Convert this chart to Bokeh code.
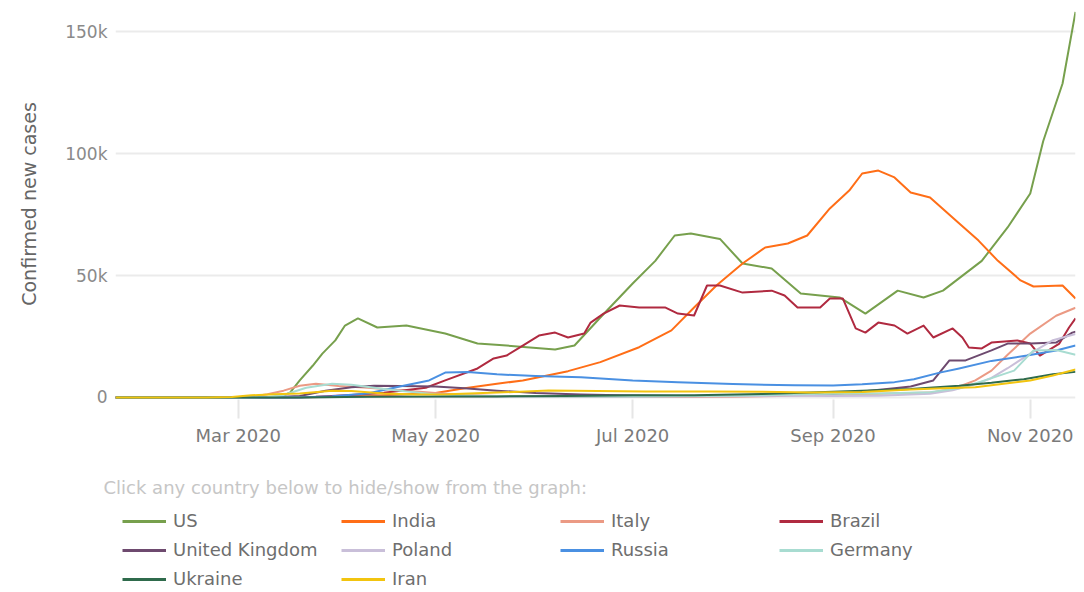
import pandas as pd
from bokeh.plotting import figure
from bokeh.layouts import column
from bokeh.models import Legend, LegendItem, Label, FixedTicker, DatetimeTickFormatter, Range1d
from bokeh.embed import file_html
from bokeh.resources import INLINE

countries = ["US", "India", "Italy", "Brazil", "United Kingdom", "Poland", "Russia", "Germany", "Ukraine", "Iran"]
colors = ["#77a04d", "#ff6e17", "#eb9a84", "#b02a40", "#6e4a6f", "#c9bfd9", "#4a90e2", "#a8dcd1", "#2f6b4c", "#f2c40f"]

us_dates = ["2020-01-23", "2020-03-01", "2020-03-10", "2020-03-14", "2020-03-17", "2020-03-20", "2020-03-24", "2020-03-27",
            "2020-03-31", "2020-04-03", "2020-04-07", "2020-04-13", "2020-04-22", "2020-05-04", "2020-05-14", "2020-05-23",
            "2020-06-07", "2020-06-13", "2020-06-21", "2020-07-01", "2020-07-08", "2020-07-14", "2020-07-19", "2020-07-28",
            "2020-08-04", "2020-08-13", "2020-08-22", "2020-09-03", "2020-09-11", "2020-09-21", "2020-09-29", "2020-10-05",
            "2020-10-17", "2020-10-25", "2020-11-01", "2020-11-05", "2020-11-11", "2020-11-15"]
us_cases = [0, 0, 150, 300, 2000, 7000, 13000, 18000, 23400, 29500, 32400, 28700, 29500, 26200, 22100, 21300,
            19700, 21300, 32800, 46700, 56000, 66400, 67200, 65000, 54900, 52900, 42600, 41000, 34400, 43800, 41000, 43800,
            56000, 69700, 83600, 105000, 128700, 158000]

india_dates = ["2020-01-23", "2020-03-15", "2020-04-01", "2020-04-15", "2020-05-01", "2020-05-10", "2020-05-20", "2020-05-28",
               "2020-06-11", "2020-06-21", "2020-07-03", "2020-07-13", "2020-07-20", "2020-07-27", "2020-08-04", "2020-08-11",
               "2020-08-18", "2020-08-24", "2020-08-31", "2020-09-06", "2020-09-10", "2020-09-15", "2020-09-20", "2020-09-25",
               "2020-10-01", "2020-10-09", "2020-10-16", "2020-10-22", "2020-10-29", "2020-11-02", "2020-11-11", "2020-11-15"]
india_cases = [0, 20, 300, 900, 1800, 3800, 5600, 7000, 10800, 14500, 20600, 27500, 36900, 46000, 54900, 61500,
               63100, 66400, 77500, 84800, 91800, 93000, 90200, 84000, 82000, 72500, 64300, 56000, 48000, 45500, 45900, 40600]

italy_dates = ["2020-01-23", "2020-02-20", "2020-02-28", "2020-03-05", "2020-03-10", "2020-03-15", "2020-03-20", "2020-03-25",
               "2020-04-01", "2020-04-10", "2020-04-20", "2020-05-01", "2020-05-10", "2020-05-20", "2020-06-01", "2020-06-15",
               "2020-07-01", "2020-07-15", "2020-08-01", "2020-08-15", "2020-09-01", "2020-09-15", "2020-10-01", "2020-10-08",
               "2020-10-15", "2020-10-20", "2020-10-25", "2020-11-01", "2020-11-09", "2020-11-15"]
italy_cases = [0, 0, 100, 400, 1300, 2800, 4800, 5600, 4700, 4000, 3000, 1800, 1000, 600, 400, 300,
               200, 220, 300, 600, 1300, 1500, 2000, 3500, 7000, 11000, 17500, 26200, 33500, 36800]

brazil_dates = ["2020-01-23", "2020-03-15", "2020-03-25", "2020-04-05", "2020-04-15", "2020-04-28", "2020-05-04", "2020-05-14",
                "2020-05-19", "2020-05-23", "2020-05-28", "2020-06-02", "2020-06-07", "2020-06-11", "2020-06-16", "2020-06-18",
                "2020-06-22", "2020-06-27", "2020-07-03", "2020-07-11", "2020-07-15", "2020-07-20", "2020-07-24", "2020-07-28",
                "2020-08-04", "2020-08-13", "2020-08-17", "2020-08-21", "2020-08-28", "2020-08-31", "2020-09-04", "2020-09-08",
                "2020-09-11", "2020-09-15", "2020-09-20", "2020-09-24", "2020-09-29", "2020-10-02", "2020-10-08", "2020-10-11",
                "2020-10-13", "2020-10-17", "2020-10-20", "2020-10-28", "2020-11-01", "2020-11-04", "2020-11-10", "2020-11-13",
                "2020-11-15"]
brazil_cases = [0, 20, 300, 1000, 1900, 4000, 7000, 11900, 16000, 17200, 21300, 25400, 26600, 24600, 26200, 30700,
                34400, 37700, 36900, 36900, 34400, 33600, 45900, 45900, 43000, 43800, 41800, 36900, 36900, 40600, 40600, 28300,
                26600, 30700, 29500, 26200, 29500, 24600, 28300, 24600, 20500, 20100, 22500, 23400, 22100, 17200, 22100, 28700,
                32400]

uk_dates = ["2020-01-23", "2020-03-01", "2020-03-10", "2020-03-20", "2020-03-28", "2020-04-05", "2020-04-12", "2020-04-20",
            "2020-05-01", "2020-05-10", "2020-05-20", "2020-06-01", "2020-06-15", "2020-07-01", "2020-07-15", "2020-08-01",
            "2020-08-15", "2020-09-01", "2020-09-10", "2020-09-20", "2020-09-25", "2020-10-02", "2020-10-07", "2020-10-12",
            "2020-10-20", "2020-10-25", "2020-11-01", "2020-11-09", "2020-11-14", "2020-11-15"]
uk_cases = [0, 0, 50, 600, 2800, 4200, 4800, 4700, 4500, 3800, 2800, 1800, 1200, 800, 650, 750,
            1000, 1400, 2500, 3800, 4500, 7000, 15200, 15200, 19300, 22100, 22100, 22500, 26600, 27000]

poland_dates = ["2020-01-23", "2020-03-10", "2020-03-25", "2020-04-10", "2020-05-01", "2020-06-01", "2020-07-01", "2020-08-01",
                "2020-08-15", "2020-09-01", "2020-09-15", "2020-10-01", "2020-10-08", "2020-10-15", "2020-10-20", "2020-10-25",
                "2020-11-01", "2020-11-08", "2020-11-15"]
poland_cases = [0, 0, 100, 350, 300, 350, 300, 500, 700, 600, 700, 1500, 3000, 5500, 8000, 12000, 18000, 23500, 26000]

russia_dates = ["2020-01-23", "2020-03-20", "2020-03-30", "2020-04-10", "2020-04-20", "2020-04-29", "2020-05-04", "2020-05-11",
                "2020-05-20", "2020-06-01", "2020-06-15", "2020-07-01", "2020-07-15", "2020-08-01", "2020-08-20", "2020-09-01",
                "2020-09-10", "2020-09-20", "2020-09-26", "2020-10-04", "2020-10-10", "2020-10-20", "2020-10-31", "2020-11-09",
                "2020-11-15"]
russia_cases = [0, 20, 500, 1600, 4500, 7000, 10200, 10500, 9500, 8800, 8300, 7000, 6300, 5500, 5000, 4900,
                5400, 6300, 7500, 10200, 11900, 15000, 17200, 19300, 21300]

germany_dates = ["2020-01-23", "2020-03-01", "2020-03-10", "2020-03-15", "2020-03-22", "2020-03-30", "2020-04-05", "2020-04-15",
                 "2020-05-01", "2020-05-15", "2020-06-01", "2020-07-01", "2020-08-01", "2020-08-25", "2020-09-15", "2020-10-01",
                 "2020-10-10", "2020-10-18", "2020-10-27", "2020-11-02", "2020-11-09", "2020-11-15"]
germany_cases = [0, 0, 200, 1000, 4000, 5600, 5200, 3500, 1200, 650, 450, 400, 700, 1400, 1600, 2200,
                 3800, 7000, 11000, 19300, 19500, 17500]

ukraine_dates = ["2020-01-23", "2020-03-20", "2020-04-10", "2020-05-01", "2020-05-20", "2020-06-10", "2020-07-01", "2020-07-20",
                 "2020-08-10", "2020-08-25", "2020-09-10", "2020-09-25", "2020-10-10", "2020-10-20", "2020-10-30", "2020-11-08",
                 "2020-11-15"]
ukraine_cases = [0, 0, 300, 450, 450, 600, 900, 900, 1400, 2000, 2800, 3500, 4800, 6000, 7500, 9500, 10500]

iran_dates = ["2020-01-23", "2020-02-20", "2020-02-28", "2020-03-05", "2020-03-12", "2020-03-20", "2020-03-30", "2020-04-05",
              "2020-04-15", "2020-04-25", "2020-05-05", "2020-05-20", "2020-06-05", "2020-06-20", "2020-07-05", "2020-07-25",
              "2020-08-10", "2020-08-25", "2020-09-10", "2020-09-25", "2020-10-05", "2020-10-15", "2020-10-25", "2020-11-01",
              "2020-11-08", "2020-11-15"]
iran_cases = [0, 0, 200, 900, 1300, 1600, 2800, 2700, 1600, 1200, 1300, 2000, 2900, 2700, 2500, 2500,
              2400, 2100, 2300, 3300, 3800, 4200, 5800, 7000, 9000, 11500]

series_dates = [us_dates, india_dates, italy_dates, brazil_dates, uk_dates, poland_dates, russia_dates,
                germany_dates, ukraine_dates, iran_dates]
series_cases = [us_cases, india_cases, italy_cases, brazil_cases, uk_cases, poland_cases, russia_cases,
                germany_cases, ukraine_cases, iran_cases]

x_start = "2020-01-23"
x_end = "2020-11-15"
tick_dates = ["2020-03-01", "2020-05-01", "2020-07-01", "2020-09-01", "2020-11-01"]
y_ticks = [0, 50000, 100000, 150000]
y_tick_labels = ["0", "50k", "100k", "150k"]
legend_title = "Click any country below to hide/show from the graph:"

FONT = "DejaVu Sans"
W = 1076
H_MAIN = 453
H_LEG = 137

p = figure(width=W, height=H_MAIN, x_axis_type="datetime", output_backend="svg", toolbar_location=None,
           x_range=Range1d(pd.Timestamp(x_start), pd.Timestamp(x_end)),
           y_range=Range1d(-820, 159430), frame_align=False,
           min_border_left=115, min_border_right=1, min_border_top=8, min_border_bottom=54)
p.outline_line_color = None

main_renderers = []
for name, col, d, v in zip(countries, colors, series_dates, series_cases):
    r = p.line(pd.to_datetime(d), v, line_color=col, line_width=2, line_join="round")
    main_renderers.append(r)

p.xgrid.grid_line_color = None
p.ygrid.grid_line_color = "#ebebeb"
p.ygrid.grid_line_width = 2
p.yaxis.ticker = FixedTicker(ticks=y_ticks)
p.yaxis.major_label_overrides = {t: s for t, s in zip(y_ticks, y_tick_labels)}
p.yaxis.axis_line_color = None
p.yaxis.major_tick_line_color = None
p.yaxis.minor_tick_line_color = None
p.yaxis.major_label_standoff = 2
p.yaxis.major_label_text_font = FONT
p.yaxis.major_label_text_font_size = "17px"
p.yaxis.major_label_text_color = "#8a8a8a"
p.yaxis.axis_label = "Confirmed new cases"
p.yaxis.axis_label_text_font = FONT
p.yaxis.axis_label_text_font_size = "19px"
p.yaxis.axis_label_text_font_style = "normal"
p.yaxis.axis_label_text_color = "#666666"
p.yaxis.axis_label_standoff = 22

p.xaxis.ticker = FixedTicker(ticks=[pd.Timestamp(t).value / 1e6 for t in tick_dates])
p.xaxis.formatter = DatetimeTickFormatter(months="%b %Y", days="%b %Y")
p.xaxis.axis_line_color = None
p.xaxis.minor_tick_line_color = None
p.xaxis.major_tick_line_color = "#e6e6e6"
p.xaxis.major_tick_line_width = 2
p.xaxis.major_tick_out = 19
p.xaxis.major_tick_in = 0
p.xaxis.major_label_standoff = 6
p.xaxis.major_label_text_font = FONT
p.xaxis.major_label_text_font_size = "18px"
p.xaxis.major_label_text_color = "#7a7a7a"

# legend panel (its entries toggle the chart's lines)
lg = figure(width=W, height=H_LEG, output_backend="svg", toolbar_location=None,
            x_range=Range1d(0, 1), y_range=Range1d(0, 1), frame_align=False,
            x_axis_location=None, y_axis_location=None,
            min_border_left=0, min_border_right=0, min_border_top=0, min_border_bottom=0)
lg.grid.visible = False
lg.outline_line_color = None

items = []
for name, col, r in zip(countries, colors, main_renderers):
    dummy = lg.line(x=[0], y=[float("nan")], line_color=col, line_width=3)
    dummy.js_link("visible", r, "visible")
    items.append(LegendItem(label=name, renderers=[dummy]))

lg.add_layout(Label(x=103, y=H_LEG - 34, x_units="screen", y_units="screen", text=legend_title,
                    text_font=FONT, text_font_size="18px", text_color="#c6c6c6", text_baseline="middle"))

legend = Legend(items=items, orientation="horizontal", ncols=4, location=(122, 1),
                glyph_width=44, glyph_height=18, label_height=18, label_width=160, label_standoff=7,
                spacing=8, padding=0, margin=0, border_line_color=None, background_fill_alpha=0,
                label_text_font=FONT, label_text_font_size="18px", label_text_color="#6e6e6e",
                label_text_baseline="middle", click_policy="hide")
lg.add_layout(legend, "center")

layout = column(p, lg, spacing=0)
open("out.html", "w").write(file_html(layout, INLINE))
